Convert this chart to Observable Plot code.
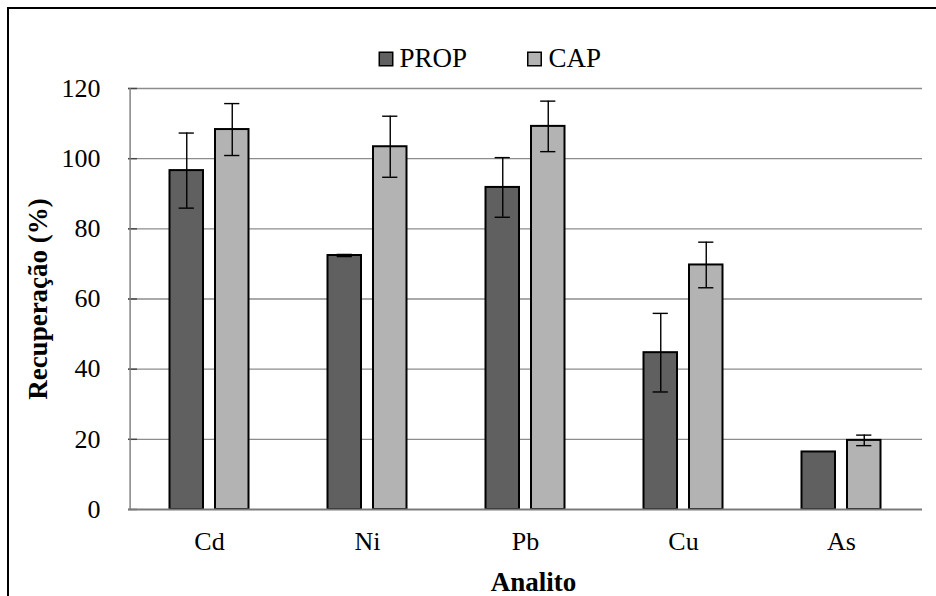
<!DOCTYPE html>
<html>
<head>
<meta charset="utf-8">
<script src="https://cdn.jsdelivr.net/npm/d3@7"></script>
<script src="https://cdn.jsdelivr.net/npm/@observablehq/plot@0.6"></script>
<style>
  html, body { margin: 0; padding: 0; background: #fff; }
  #wrap { position: relative; width: 936px; height: 596px; overflow: hidden; }
  #wrap svg, #wrap svg text, #wrap svg g { font-family: "Liberation Serif", "DejaVu Serif", serif !important; }
  #border { position: absolute; left: 7px; top: 7px; width: 1000px; height: 700px;
            border-left: 2.5px solid #000; border-top: 2.5px solid #000; pointer-events: none; }
</style>
</head>
<body>
<div id="wrap"><div id="border"></div></div>
<script>
// ---- data ----
const categories = ["Cd", "Ni", "Pb", "Cu", "As"];
const series = ["PROP", "CAP"];
const propValues = [96.6, 72.4, 91.8, 44.7, 16.4];
const propErrors = [10.7, 0.3, 8.5, 11.2, 0];
const capValues = [108.3, 103.4, 109.2, 69.7, 19.7];
const capErrors = [7.4, 8.7, 7.2, 6.5, 1.5];
const yTicks = [0, 20, 40, 60, 80, 100, 120];
const yLabel = "Recuperação (%)";
const xLabel = "Analito";

const colors = {PROP: "#606060", CAP: "#b3b3b3"};
const font = "Liberation Serif";

const rows = [];
categories.forEach((c, i) => {
  rows.push({analito: c, serie: "PROP", value: propValues[i], err: propErrors[i]});
  rows.push({analito: c, serie: "CAP", value: capValues[i], err: capErrors[i]});
});

const W = 936, H = 596;
const mL = 128, mR = 14, mT = 88, mB = 87;
const bw = (W - mL - mR) / categories.length;
const off = {PROP: -22.75, CAP: 22.75};
const barInset = {PROP: [39.5, bw - 39.5 - 34.3], CAP: [bw - 39.5 - 34.3, 39.5]};
const capHalf = 8;

const barMarks = series.flatMap(s => {
  const d = rows.filter(r => r.serie === s);
  const e = d.filter(r => r.err > 0);
  return [
    Plot.barY(d, {x: "analito", y: "value", fill: colors[s], stroke: "#000", strokeWidth: 2,
                  insetLeft: barInset[s][0], insetRight: barInset[s][1]}),
    Plot.ruleX(e, {x: "analito", y1: r => r.value - r.err, y2: r => r.value + r.err,
                  dx: off[s], stroke: "#000", strokeWidth: 1.4}),
    Plot.tickY(e, {x: "analito", y: r => r.value + r.err, dx: off[s],
                  insetLeft: bw / 2 - capHalf, insetRight: bw / 2 - capHalf, stroke: "#000", strokeWidth: 1.4}),
    Plot.tickY(e, {x: "analito", y: r => r.value - r.err, dx: off[s],
                  insetLeft: bw / 2 - capHalf, insetRight: bw / 2 - capHalf, stroke: "#000", strokeWidth: 1.4})
  ];
});

const legendPos = {PROP: [257.5, 271], CAP: [406, 420]};
const legendMarks = series.flatMap(s => [
  Plot.dot([s], {frameAnchor: "top-left", dx: legendPos[s][0], dy: -29.5, symbol: "square", r: 7.6,
                 fill: colors[s], stroke: "#000", strokeWidth: 1.5}),
  Plot.text([s], {text: d => d, frameAnchor: "top-left", dx: legendPos[s][1], dy: -30,
                  textAnchor: "start", lineAnchor: "middle",
                  fontSize: 27, fontFamily: font, fill: "#000"})
]);

const chart = Plot.plot({
  width: W, height: H,
  marginLeft: mL, marginRight: mR, marginTop: mT, marginBottom: mB,
  style: {fontFamily: font, background: "transparent", color: "#000"},
  x: {domain: categories, padding: 0},
  y: {domain: [0, 120]},
  marks: [
    Plot.gridY(yTicks.filter(t => t > 0), {stroke: "#8c8c8c", strokeOpacity: 1, strokeWidth: 1.4}),
    Plot.tickY(yTicks, {y: d => d, insetRight: (W - mL - mR) - 9, stroke: "#444", strokeWidth: 1.4}),
    Plot.ruleX([categories[0]], {x: d => d, y1: 0, y2: 120, dx: -bw / 2, stroke: "#7a7a7a", strokeWidth: 1.4}),
    Plot.axisY(yTicks, {tickSize: 0, tickPadding: 28, fontSize: 26, label: null, fontFamily: font, fill: "#000"}),
    Plot.axisX({tickSize: 0, tickPadding: 22, fontSize: 26, label: null, fontFamily: font, fill: "#000"}),
    ...barMarks,
    Plot.ruleY([0], {stroke: "#7a7a7a", strokeWidth: 2}),
    ...legendMarks,
    Plot.text([yLabel], {text: d => d, frameAnchor: "left", rotate: -90, dx: -90,
                         textAnchor: "middle", lineAnchor: "middle", fontSize: 27,
                         fontWeight: "bold", fontFamily: font, fill: "#000"}),
    Plot.text([xLabel], {text: d => d, frameAnchor: "bottom", dx: 8, dy: 72.5,
                         textAnchor: "middle", lineAnchor: "middle", fontSize: 27,
                         fontWeight: "bold", fontFamily: font, fill: "#000"})
  ]
});
document.getElementById("wrap").prepend(chart);
</script>
</body>
</html>
